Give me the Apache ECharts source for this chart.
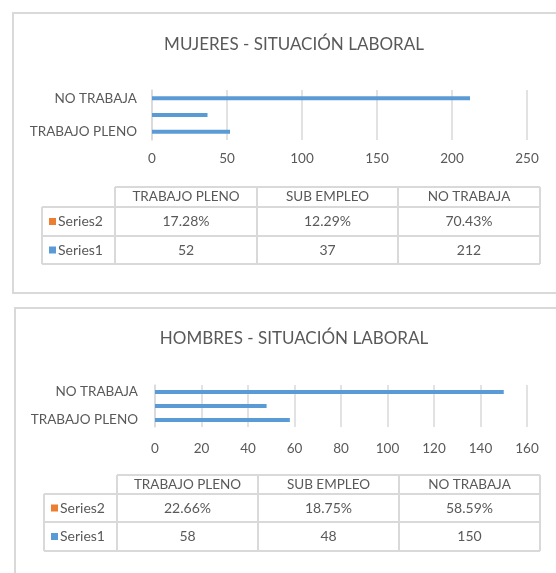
<!DOCTYPE html>
<html>
<head>
<meta charset="utf-8">
<script src="https://cdn.jsdelivr.net/npm/echarts@6/dist/echarts.min.js"></script>
<style>
  html, body { margin: 0; padding: 0; background: #fff; }
  #chart { width: 556px; height: 573px; }
</style>
</head>
<body>
<div id="chart"></div>
<script>
const categories = ['TRABAJO PLENO', 'SUB EMPLEO', 'NO TRABAJA']
const mujeresSeries1 = [52, 37, 212]
const mujeresSeries2 = ['17.28%', '12.29%', '70.43%']
const hombresSeries1 = [58, 48, 150]
const hombresSeries2 = ['22.66%', '18.75%', '58.59%']
const seriesNames = ['Series2', 'Series1']

const FONT = 'Lato, "Open Sans", sans-serif'
const TEXT = '#595959'
const GRID = '#d9d9d9'
const BLUE = '#5b9bd5'
const ORANGE = '#ed7d31'

// tabla de datos debajo del gráfico (estilo Excel)
function buildTable (xs, ys, s1, s2) {
  const els = []
  const line = (x1, y1, x2, y2) => els.push({
    type: 'line',
    shape: { x1, y1, x2, y2 },
    style: { stroke: GRID, lineWidth: 2 }
  })
  line(xs[1], ys[0], xs[4], ys[0])
  for (let r = 1; r < 4; r++) line(xs[0], ys[r], xs[4], ys[r])
  line(xs[0], ys[1], xs[0], ys[3])
  for (let c = 1; c < 5; c++) line(xs[c], ys[0], xs[c], ys[3])

  const text = (t, x, y, size, align) => els.push({
    type: 'text',
    style: {
      text: t, x, y, fill: TEXT,
      font: size + 'px ' + FONT,
      textAlign: align || 'center',
      textVerticalAlign: 'middle'
    }
  })
  categories.forEach((c, i) => {
    text(c, (xs[i + 1] + xs[i + 2]) / 2, (ys[0] + ys[1]) / 2, 13.5)
  })
  const rows = [s2, s1]
  const colors = [ORANGE, BLUE]
  rows.forEach((vals, r) => {
    const cy = (ys[r + 1] + ys[r + 2]) / 2
    els.push({
      type: 'rect',
      shape: { x: xs[0] + 7, y: cy - 3.5, width: 7, height: 7 },
      style: { fill: colors[r] }
    })
    text(seriesNames[r], xs[0] + 16, cy, 14, 'left')
    vals.forEach((v, i) => {
      text(String(v), (xs[i + 1] + xs[i + 2]) / 2, cy, 14)
    })
  })
  return els
}

function title (t, y) {
  return {
    type: 'text',
    style: {
      text: t, x: 294, y, fill: TEXT,
      font: '17px ' + FONT,
      textAlign: 'center',
      textVerticalAlign: 'middle'
    }
  }
}

const chart = echarts.init(document.getElementById('chart'), null, { renderer: 'canvas' })

const valueAxis = (grid, max, interval, margin) => ({
  type: 'value',
  gridIndex: grid,
  min: 0,
  max,
  interval,
  axisLine: { show: false },
  axisTick: { show: false },
  axisLabel: { color: TEXT, fontFamily: FONT, fontSize: 13.5, margin },
  splitLine: { lineStyle: { color: GRID, width: 1.5 } }
})

const catAxis = (grid, margin) => ({
  type: 'category',
  gridIndex: grid,
  data: categories,
  axisLine: { lineStyle: { color: GRID, width: 1.5 } },
  axisTick: { show: false },
  axisLabel: { color: TEXT, fontFamily: FONT, fontSize: 13.5, margin, interval: 1 }
})

const option = {
  backgroundColor: '#fff',
  animation: false,
  grid: [
    { left: 152, right: 29, top: 90, height: 50 },
    { left: 155, right: 29, top: 385, height: 42 }
  ],
  xAxis: [valueAxis(0, 250, 50, 12), valueAxis(1, 160, 20, 15)],
  yAxis: [catAxis(0, 15), catAxis(1, 17)],
  series: [
    {
      name: 'Series1',
      type: 'bar',
      xAxisIndex: 0,
      yAxisIndex: 0,
      barWidth: 4,
      itemStyle: { color: BLUE },
      data: mujeresSeries1
    },
    {
      name: 'Series1',
      type: 'bar',
      xAxisIndex: 1,
      yAxisIndex: 1,
      barWidth: 4,
      itemStyle: { color: BLUE },
      data: hombresSeries1
    }
  ],
  graphic: [
    {
      type: 'rect',
      shape: { x: 13, y: 13, width: 600, height: 280 },
      style: { fill: 'transparent', stroke: GRID, lineWidth: 2 }
    },
    {
      type: 'rect',
      shape: { x: 15, y: 308, width: 600, height: 300 },
      style: { fill: 'transparent', stroke: GRID, lineWidth: 2 }
    },
    title('MUJERES - SITUACIÓN LABORAL', 45),
    title('HOMBRES - SITUACIÓN LABORAL', 339),
    ...buildTable([42, 115, 257, 398, 540], [187, 207, 236, 264], mujeresSeries1, mujeresSeries2),
    ...buildTable([44, 117, 258, 399, 540], [475, 494, 522, 551], hombresSeries1, hombresSeries2)
  ]
}

chart.setOption(option)
window.addEventListener('resize', chart.resize)
</script>
</body>
</html>
